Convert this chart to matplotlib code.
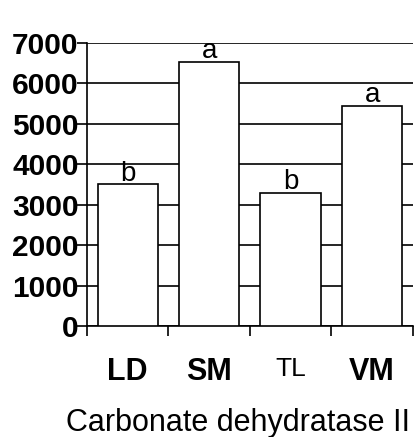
import matplotlib
matplotlib.use('Agg')
import matplotlib.pyplot as plt

# Carbonate dehydratase II activity per group
groups = ['LD', 'SM', 'TL', 'VM']
values = [3500, 6530, 3300, 5440]
letters = ['b', 'a', 'b', 'a']
yticks = [0, 1000, 2000, 3000, 4000, 5000, 6000, 7000]

plt.rcParams['font.family'] = ['Liberation Sans', 'DejaVu Sans']

fig = plt.figure(figsize=(4.2, 4.37), dpi=100)
ax = fig.add_axes([0.207, 0.254, 0.776, 0.648])

x = list(range(len(groups)))
ax.bar(x, values, width=0.74, color='white', edgecolor='black', linewidth=1.2, zorder=3)

# significance letters sitting on top of each bar
for xi, v, s in zip(x, values, letters):
    ax.text(xi, v - 60, s, ha='center', va='bottom', fontsize=20, zorder=4)

ax.set_xlim(-0.5, 3.5)
ax.set_ylim(0, 7000)

ax.set_yticks(yticks)
ax.set_yticklabels([str(t) for t in yticks], fontsize=21.5, fontweight='bold')
ax.tick_params(axis='y', direction='out', length=7, width=1.2, pad=-1)
ax.yaxis.grid(True, color='black', linewidth=1.2, zorder=0)
ax.set_axisbelow(True)

# category labels, boundary ticks underneath
ax.set_xticks(x)
ax.set_xticklabels(groups)
ax.tick_params(axis='x', which='major', length=0, pad=22)
ax.set_xticks([-0.5, 0.5, 1.5, 2.5, 3.5], minor=True)
ax.tick_params(axis='x', which='minor', direction='out', length=7, width=1.2)
for lab in ax.get_xticklabels():
    if lab.get_text() == 'TL':
        lab.set_fontsize(19)
        lab.set_fontweight('normal')
    else:
        lab.set_fontsize(22)
        lab.set_fontweight('bold')

for side in ['top', 'right']:
    ax.spines[side].set_visible(False)
for side in ['left', 'bottom']:
    ax.spines[side].set_linewidth(1.2)

ax.set_xlabel('Carbonate dehydratase II', fontsize=22)
ax.xaxis.set_label_coords(0.463, -0.29)

fig.savefig('out.png', dpi=100)
